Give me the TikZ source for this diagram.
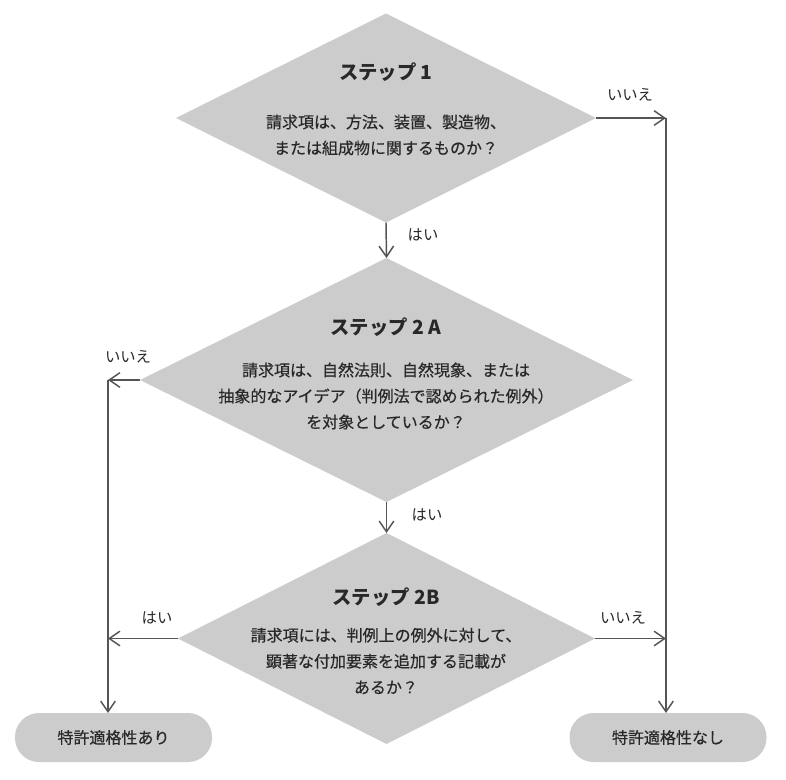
\documentclass[tikz,border=0pt]{standalone}
\usepackage{fontspec}
\setmainfont{Noto Sans CJK JP}
\newfontfamily\jpmed{Noto Sans CJK JP}[FakeBold=0.5]
\usetikzlibrary{shapes.geometric,arrows.meta}

\definecolor{boxgray}{RGB}{204,204,204}
\definecolor{linegray}{RGB}{85,85,85}
\definecolor{inkgray}{RGB}{40,40,40}

\tikzset{every picture/.style={line width=1.1pt}}

\begin{document}
\begin{tikzpicture}[x=0.75pt,y=0.75pt,yscale=-1,xscale=1,
  decision/.style={diamond,fill=boxgray,inner sep=0pt,outer sep=0pt},
  result/.style={rectangle,rounded corners=18pt,fill=boxgray,minimum width=147.75pt,minimum height=36.75pt,inner sep=0pt,outer sep=0pt,text=inkgray,font=\jpmed\fontsize{12}{14}\selectfont},
  title/.style={text=inkgray,font=\fontsize{14.5}{17}\selectfont\bfseries,inner sep=0.75pt},
  body/.style={text=inkgray,align=center,font=\jpmed\fontsize{12}{19.5}\selectfont,inner sep=0.75pt},
  tag/.style={text=inkgray,font=\fontsize{11.5}{14}\selectfont,inner sep=0.75pt},
  flow/.style={draw=linegray,-{Straight Barb[length=8pt,width=11pt]}}]

\useasboundingbox (0,0) rectangle (786,779);

% decisions
\node[decision,minimum width=315pt,minimum height=156.75pt] (d1) at (386,118) {};
\node[decision,minimum width=369.75pt,minimum height=183pt] (d2) at (386.5,380) {};
\node[decision,minimum width=312.75pt,minimum height=158.25pt] (d3) at (386.5,638.5) {};

% results
\node[result] (yes) at (113.5,737.5) {特許適格性あり};
\node[result] (no) at (668,737.5) {特許適格性なし};

% texts in the decisions
\node[title] (t1) at (386,72) {ステップ 1};
\node[body] (b1) at (386,135) {請求項は、方法、装置、製造物、\\または組成物に関するものか？};
\node[title] (t2) at (386,327) {ステップ 2 A};
\node[body] (b2) at (386,396) {請求項は、自然法則、自然現象、または\\抽象的なアイデア（判例法で認められた例外）\\を対象としているか？};
\node[title] (t3) at (386,597) {ステップ 2B};
\node[body] (b3) at (386,661) {請求項には、判例上の例外に対して、\\顕著な付加要素を追加する記載が\\あるか？};

% rails
\coordinate (r1) at (666,118);
\coordinate (l2) at (108,380);

\draw[flow] (d1.south) -- (d2.north);
\draw[flow] (d2.south) -- (d3.north);
\draw[flow] (d1.east) -- (r1);
\draw[flow] (r1) -- (r1 |- no.north);
\draw[flow] (d3.east) -- (d3.east -| r1);
\draw[flow] (d2.west) -- (l2);
\draw[flow] (l2) -- (l2 |- yes.north);
\draw[flow] (d3.west) -- (d3.west -| l2);

% answers
\node[tag] (n1) at (630,95) {いいえ};
\node[tag] (y1) at (423,235) {はい};
\node[tag] (n2) at (128,357) {いいえ};
\node[tag] (y2) at (427,515) {はい};
\node[tag] (y3) at (157,618) {はい};
\node[tag] (n3) at (623,618) {いいえ};

\end{tikzpicture}
\end{document}
